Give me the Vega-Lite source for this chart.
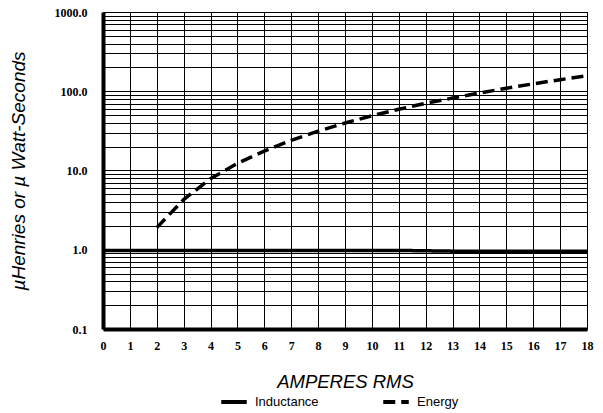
{
  "$schema": "https://vega.github.io/schema/vega-lite/v6.json",
  "autosize": {"type": "none"},
  "width": 484,
  "height": 317,
  "padding": {"left": 103, "top": 12, "right": 16, "bottom": 84},
  "background": "white",
  "config": {
    "view": {"stroke": "black", "strokeWidth": 1},
    "axis": {"gridColor": "black", "gridOpacity": 1, "gridWidth": 1}
  },
  "data": {
    "values": [
      {"series": "Inductance", "amps": 0, "value": 0.98},
      {"series": "Inductance", "amps": 1, "value": 0.98},
      {"series": "Inductance", "amps": 2, "value": 0.98},
      {"series": "Inductance", "amps": 3, "value": 0.98},
      {"series": "Inductance", "amps": 4, "value": 0.98},
      {"series": "Inductance", "amps": 5, "value": 0.98},
      {"series": "Inductance", "amps": 6, "value": 0.98},
      {"series": "Inductance", "amps": 7, "value": 0.98},
      {"series": "Inductance", "amps": 8, "value": 0.98},
      {"series": "Inductance", "amps": 9, "value": 0.98},
      {"series": "Inductance", "amps": 10, "value": 0.98},
      {"series": "Inductance", "amps": 11, "value": 0.98},
      {"series": "Inductance", "amps": 12, "value": 0.97},
      {"series": "Inductance", "amps": 13, "value": 0.96},
      {"series": "Inductance", "amps": 14, "value": 0.96},
      {"series": "Inductance", "amps": 15, "value": 0.96},
      {"series": "Inductance", "amps": 16, "value": 0.96},
      {"series": "Inductance", "amps": 17, "value": 0.96},
      {"series": "Inductance", "amps": 18, "value": 0.96},
      {"series": "Energy", "amps": 2, "value": 1.9},
      {"series": "Energy", "amps": 3, "value": 4.3},
      {"series": "Energy", "amps": 4, "value": 7.9},
      {"series": "Energy", "amps": 5, "value": 12.3},
      {"series": "Energy", "amps": 6, "value": 17.6},
      {"series": "Energy", "amps": 7, "value": 24},
      {"series": "Energy", "amps": 8, "value": 31.4},
      {"series": "Energy", "amps": 9, "value": 39.7},
      {"series": "Energy", "amps": 10, "value": 49},
      {"series": "Energy", "amps": 11, "value": 59.3},
      {"series": "Energy", "amps": 12, "value": 70.5},
      {"series": "Energy", "amps": 13, "value": 82},
      {"series": "Energy", "amps": 14, "value": 95},
      {"series": "Energy", "amps": 15, "value": 109},
      {"series": "Energy", "amps": 16, "value": 124},
      {"series": "Energy", "amps": 17, "value": 140},
      {"series": "Energy", "amps": 18, "value": 157}
    ]
  },
  "mark": {"type": "line", "strokeWidth": 3.5, "color": "black", "clip": true},
  "encoding": {
    "x": {
      "field": "amps",
      "type": "quantitative",
      "scale": {"domain": [0, 18], "nice": false, "zero": false},
      "axis": {
        "values": [0,1,2,3,4,5,6,7,8,9,10,11,12,13,14,15,16,17,18],
        "title": "AMPERES RMS",
        "titleFont": "Liberation Sans",
        "titleFontStyle": "italic",
        "titleFontWeight": "normal",
        "titleFontSize": 18.5,
        "titleColor": "black",
        "titlePadding": 21,
        "labelFont": "Liberation Serif",
        "labelFontWeight": "bold",
        "labelFontSize": 12,
        "labelColor": "black",
        "labelPadding": 11,
        "labelFlush": false,
        "ticks": false,
        "domain": true,
        "domainColor": "black",
        "domainWidth": 4,
        "grid": true
      }
    },
    "y": {
      "field": "value",
      "type": "quantitative",
      "scale": {"type": "log", "domain": [0.1, 1000], "nice": false},
      "axis": {
        "values": [0.1,0.2,0.3,0.4,0.5,0.6,0.7,0.8,0.9,1,2,3,4,5,6,7,8,9,10,20,30,40,50,60,70,80,90,100,200,300,400,500,600,700,800,900,1000],
        "labelExpr": "indexof([0.1,1,10,100,1000], datum.value) >= 0 ? format(datum.value, '.1f') : ''",
        "title": "µHenries or µ Watt-Seconds",
        "titleFont": "Liberation Sans",
        "titleFontStyle": "italic",
        "titleFontWeight": "normal",
        "titleFontSize": 19,
        "titleColor": "black",
        "titlePadding": 26,
        "labelFont": "Liberation Serif",
        "labelFontWeight": "bold",
        "labelFontSize": 12,
        "labelColor": "black",
        "labelPadding": 16,
        "labelFlush": false,
        "labelOverlap": false,
        "ticks": false,
        "domain": true,
        "domainColor": "black",
        "domainWidth": 4,
        "grid": true
      }
    },
    "strokeDash": {
      "field": "series",
      "type": "nominal",
      "scale": {"domain": ["Inductance", "Energy"], "range": [[1, 0], [12, 6]]},
      "legend": {
        "title": null,
        "orient": "none",
        "legendX": 116,
        "legendY": 375,
        "direction": "horizontal",
        "columns": 2,
        "columnPadding": 56,
        "symbolType": "stroke",
        "symbolStrokeWidth": 4,
        "symbolStrokeColor": "black",
        "symbolSize": 650,
        "labelFont": "Liberation Sans",
        "labelFontSize": 13,
        "labelColor": "black",
        "labelOffset": 6
      }
    }
  }
}
